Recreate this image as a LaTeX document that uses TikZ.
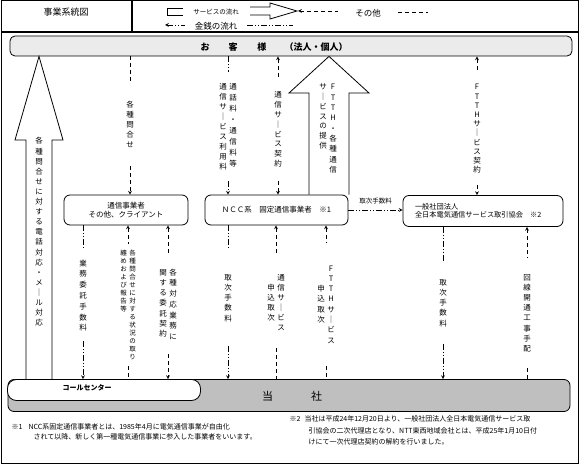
\documentclass[tikz,border=0pt]{standalone}
\usepackage{fontspec}
\setmainfont{Noto Sans CJK JP}

\newdimen\vtsp
\def\vtloop#1{\ifx\relax#1\else\hbox to 1em{\hss\vrule height .8\vtsp depth .2\vtsp width 0pt\relax #1\hss}\expandafter\vtloop\fi}
\newcommand\vt[2][10pt]{\vtsp=#1\relax\vtop{\offinterlineskip\vtloop#2\relax}}
\newcommand\vpair[2]{\hbox{#1\kern2.5pt#2}}

\begin{document}
\begin{tikzpicture}[x=1pt, y=-1pt, >=stealth, line width=0.7pt,
    box/.style={draw, rounded corners=6pt, line width=0.8pt},
    lbl/.style={inner xsep=1pt, inner ysep=12pt, anchor=base, font=\fontsize{7.5}{9}\selectfont},
    oth/.style={dash pattern=on 4pt off 3pt},
    mon/.style={dash pattern=on 6pt off 2pt on 1pt off 2pt on 1pt off 2pt},
    hollow/.style={line width=0.8pt, line join=miter}]
    \useasboundingbox (0,0) rectangle (581,465);

    \draw[line width=1pt] (1,1) rectangle (578,463);
    \draw[line width=1.5pt] (1,32) -- (578,32);
    \draw[line width=1.5pt] (132,1) -- (132,32);
    \node[font=\fontsize{9}{10}\selectfont] (title) at (66,12) {事業系統図};

    \draw (183,8) -- (167,8) -- (167,15) -- (183,15);
    \node[font=\fontsize{6.5}{8}\selectfont] (lgs) at (216,12) {サービスの流れ};
    \draw[hollow] (250,7) -- (270,7) -- (270,3) -- (297,11) -- (270,19) -- (270,15) -- (250,15);
    \draw[oth, <-] (298,11) -- (338,11);
    \node[font=\fontsize{8.5}{10}\selectfont] (lgo) at (368,13) {その他};
    \draw[oth] (398,12) -- (428,12);
    \draw[mon, <-] (165,25) -- (185,25);
    \node[font=\fontsize{8.5}{10}\selectfont] (lgm) at (216,26) {金銭の流れ};
    \draw[mon] (247,25) -- (293,25);

    \node[box, fill=black!8, rounded corners=5pt, minimum width=562pt, minimum height=20pt] (cust) at (291,46) {};
    \node[font=\fontsize{9}{10}\selectfont\bfseries] (custT) at (274,47) {お\hspace{19pt}客\hspace{20pt}様\hspace{18pt}（法人・個人）};
    \node[box, fill=black!25, minimum width=562pt, minimum height=32pt] (tosha) at (289,395.5) {};
    \node[font=\fontsize{11}{12}\selectfont] (toshaT) at (292,396) {当\hspace{38pt}社};
    \node[box, fill=white, rounded corners=9pt, minimum width=193pt, minimum height=21pt] (callc) at (104,390) {};
    \node[font=\fontsize{7}{8}\selectfont\bfseries] (callcT) at (87,388) {コールセンター};

    \node[box, minimum width=124pt, minimum height=30pt, align=center, font=\fontsize{7.5}{8.5}\selectfont] (carrier) at (126,210) {通信事業者\\その他、クライアント};
    \node[box, minimum width=143pt, minimum height=30pt, font=\fontsize{7.5}{9}\selectfont] (ncc) at (276.5,210) {ＮＣＣ系　固定通信事業者　※1};
    \node[box, minimum height=31pt, text width=136pt, inner xsep=12pt, align=left, font=\fontsize{7.2}{8.5}\selectfont] (assoc) at (483,211) {一般社団法人\\全日本電気通信サービス取引協会　※2};

    \node[lbl, inner ysep=16pt] (qa) at (130,108) {\vt{各種問合せ}};
    \node[lbl, inner ysep=9pt] (fee1) at (228,90) {\vpair{\vt{通信サ｜ビス利用料}}{\vt[11pt]{通話料・通信料等}}};
    \node[lbl] (cont1) at (278,98) {\vt[9.8pt]{通信サ｜ビス契約}};
    \node[lbl, inner ysep=0pt] (prov) at (328,90) {\vpair{\vt[9.7pt]{サ｜ビスの提供}}{\vt[10.3pt]{FTTH・各種通信}}};
    \node[lbl, inner ysep=10pt] (cont2) at (477,90) {\vt[9.2pt]{FTTHサ｜ビス契約}};
    \node[lbl, inner ysep=0pt] (tel) at (39,144) {\vt[10.1pt]{各種問合せに対する電話対応・メ｜ル対応}};

    \node[lbl, inner ysep=8pt] (comm) at (83,266) {\vt[10.8pt]{業務委託手数料}};
    \node[lbl, inner ysep=5pt, font=\fontsize{6.5}{8}\selectfont] (rep) at (128,255.5) {\vpair{\vt[8pt]{纏めおよび報告等}}{\vt[8pt]{各種問合せに対する状況の取り}}};
    \node[lbl] (task) at (168,275) {\vpair{\vt[10.3pt]{関する委託契約}}{\vt[10.8pt]{各種対応業務に}}};
    \node[lbl, inner ysep=22pt] (fee2) at (228,280) {\vt[10.3pt]{取次手数料}};
    \node[lbl, inner ysep=16pt] (app1) at (276,280) {\vpair{\vt{　申込取次}}{\vt{通信サ｜ビス}}};
    \node[lbl, inner ysep=20pt] (app2) at (326,271) {\vpair{\vt[10.3pt]{　　申込取次}}{\vt[10.3pt]{FTTHサ｜ビス}}};
    \node[lbl, inner ysep=15pt] (fee3) at (443,285) {\vt[10.3pt]{取次手数料}};
    \node[lbl, inner ysep=14pt] (work) at (527,280) {\vt[10.2pt]{回線開通工事手配}};

    \draw[hollow] (26,0 |- callc.north) -- (26,140) -- (15,140) -- (39,0 |- cust.south) -- (63,140) -- (52,140) -- (52,0 |- callc.north);
    \draw[hollow] (309,0 |- ncc.north) -- (309,93) -- (289,93) -- (329,0 |- cust.south) -- (369,93) -- (349,93) -- (349,0 |- ncc.north);

    \draw[oth] (cust.south -| qa) -- (qa.north);
    \draw[oth, ->] (qa.south) -- (qa |- carrier.north);
    \draw[mon] (cust.south -| fee1) -- (fee1.north);
    \draw[mon, ->] (fee1.south) -- (fee1 |- ncc.north);
    \draw[oth, <-] (cust.south -| cont1) -- (cont1.north);
    \draw[oth, ->] (cont1.south) -- (cont1 |- ncc.north);
    \draw[oth, <-] (cust.south -| cont2) -- (cont2.north);
    \draw[oth, ->] (cont2.south) -- (cont2 |- assoc.north);

    \draw[mon, ->] (ncc.east) -- (ncc.east -| assoc.west) node[midway, above=2pt, font=\fontsize{6.5}{8}\selectfont] (hfee) {取次手数料};

    \draw[mon] (carrier.south -| comm) -- (comm.north);
    \draw[mon, ->] (comm.south) -- (comm |- callc.north);
    \draw[oth, <-] (carrier.south -| rep) -- (rep.north);
    \draw[oth] (rep.south) -- (rep |- callc.north);
    \draw[oth, <-] (carrier.south -| task) -- (task.north);
    \draw[oth, ->] (task.south) -- (task |- callc.north);
    \draw[mon] (ncc.south -| fee2) -- (fee2.north);
    \draw[mon, ->] (fee2.south) -- (fee2 |- tosha.north);
    \draw[oth, <-] (ncc.south -| app1) -- (app1.north);
    \draw[oth] (app1.south) -- (app1 |- tosha.north);
    \draw[oth, <-] (ncc.south -| app2) -- (app2.north);
    \draw[oth] (app2.south) -- (app2 |- tosha.north);
    \draw[mon] (assoc.south -| fee3) -- (fee3.north);
    \draw[mon, ->] (fee3.south) -- (fee3 |- tosha.north);
    \draw[oth, <-] (assoc.south -| work) -- (work.north);
    \draw[oth] (work.south) -- (work |- tosha.north);

    \node[anchor=north west, align=left, font=\fontsize{7}{10}\selectfont] (note1) at (8,420) {※1\hspace{6pt}NCC系固定通信事業者とは、1985年4月に電気通信事業が自由化\\\hspace*{22pt}されて以降、新しく第一種電気通信事業に参入した事業者をいいます。};
    \node[anchor=north west, align=left, font=\fontsize{7}{11.5}\selectfont] (note2) at (286,412) {※2\hspace{4pt}当社は平成24年12月20日より、一般社団法人全日本電気通信サービス取\\\hspace*{19pt}引協会の二次代理店となり、NTT東西地域会社とは、平成25年1月10日付\\\hspace*{19pt}けにて一次代理店契約の解約を行いました。};
\end{tikzpicture}
\end{document}
